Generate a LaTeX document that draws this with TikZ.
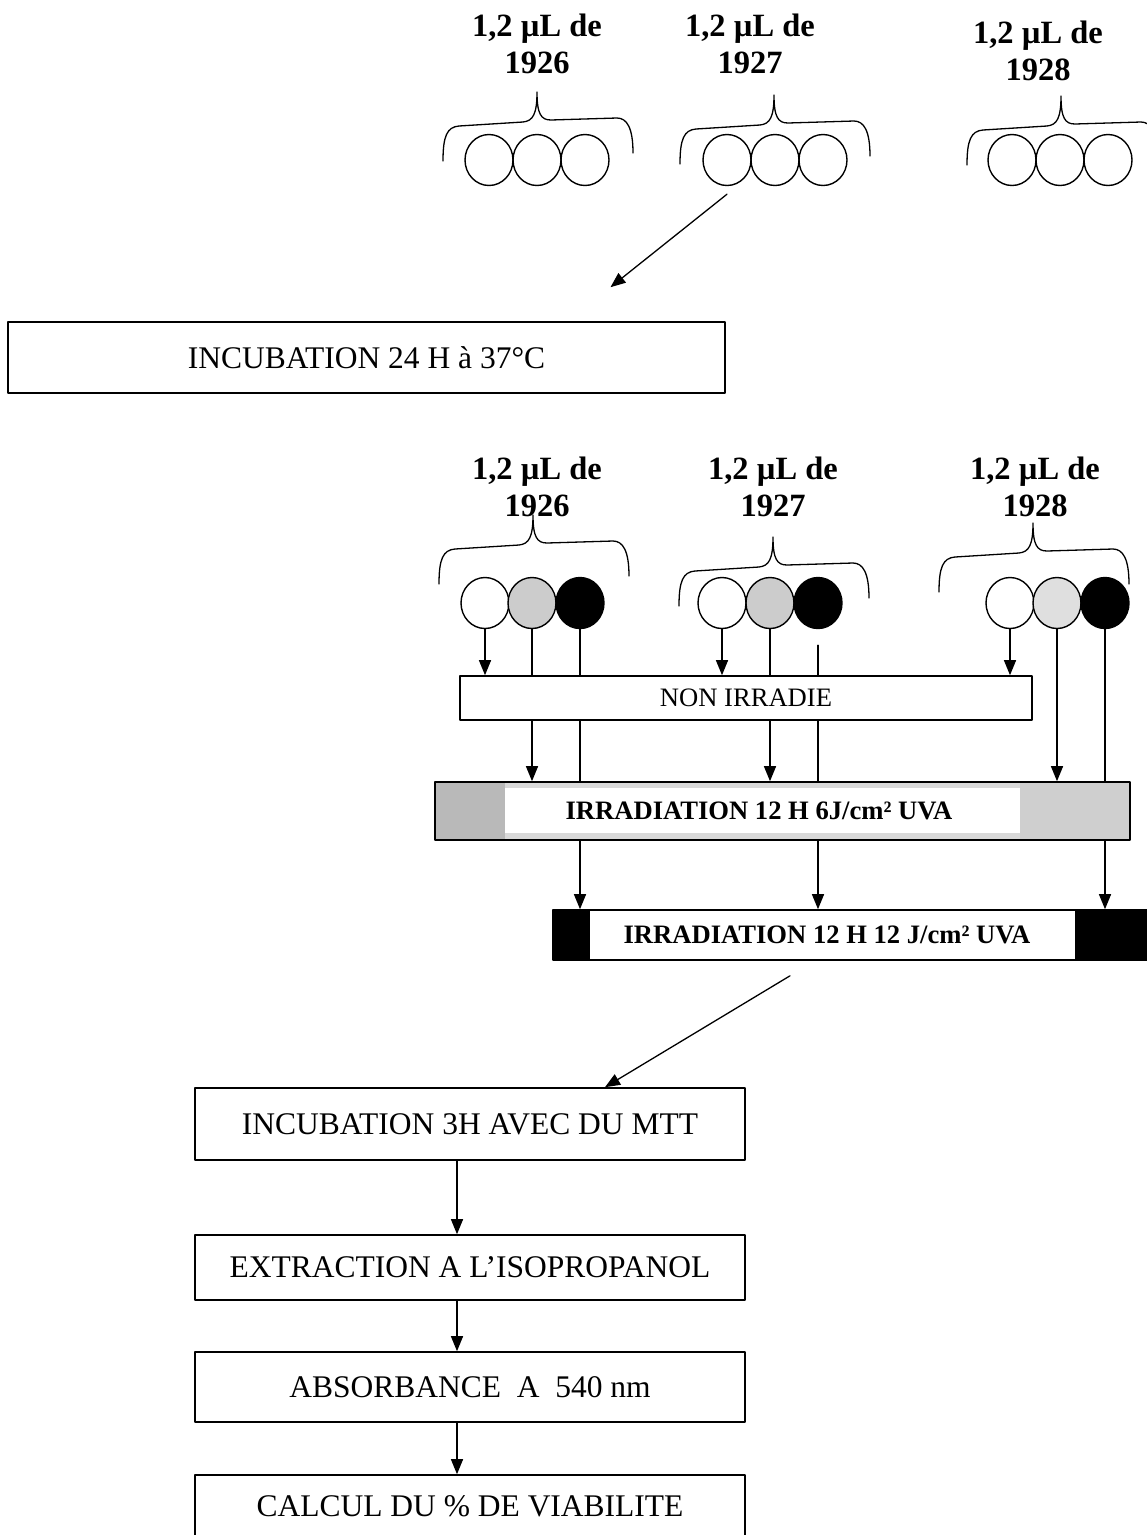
\documentclass[tikz,border=0pt]{standalone}
\usepackage{fontspec}
\setmainfont{Liberation Serif}
\usetikzlibrary{arrows.meta,shapes.geometric}

\tikzset{
  stepbox/.style={draw,line width=1.6pt,inner sep=0pt,font=\fontsize{31.5}{36}\selectfont},
  irrbox/.style={draw,line width=1.6pt,inner sep=0pt,font=\bfseries\fontsize{26.6}{30}\selectfont},
  dose/.style={align=center,inner sep=0pt,font=\bfseries\fontsize{32.5}{37}\selectfont},
  well/.style={draw,ellipse,line width=1.4pt,minimum width=48pt,minimum height=51pt,inner sep=0pt},
  wellbrace/.pic={
    \draw[line width=1.3pt] (-94,69) .. controls (-94,44) and (-90,35) .. (-78,34) -- (-14,30)
      .. controls (-4,29) and (0,22) .. (0,0) .. controls (0,22) and (4,28) .. (14,28)
      -- (80,26) .. controls (90,26) and (96,36) .. (96,61);
  }
}

\begin{document}
\begin{tikzpicture}[x=1pt,y=-1pt,line cap=round,line join=round,>={Triangle[length=15pt,width=12pt]},line width=1.3pt]
\useasboundingbox (0,0) rectangle (1147,1535);

% plaque avant incubation
\node[dose] (d1) at (537,44) {1,2 µL de\\1926};
\node[dose] (d2) at (750,44) {1,2 µL de\\1927};
\node[dose] (d3) at (1038,51) {1,2 µL de\\1928};
\pic at (537,92) {wellbrace};
\pic at (774,95) {wellbrace};
\pic at (1061,96) {wellbrace};
\node[well] (t11) at (489,160) {};
\node[well] (t12) at (537,160) {};
\node[well] (t13) at (585,160) {};
\node[well] (t21) at (727,160) {};
\node[well] (t22) at (775,160) {};
\node[well] (t23) at (823,160) {};
\node[well] (t31) at (1012,160) {};
\node[well] (t32) at (1060,160) {};
\node[well] (t33) at (1108,160) {};

\node[stepbox,minimum width=717pt,minimum height=71pt] (inc24) at (366.5,357.5) {INCUBATION 24 H à 37°C};
\draw[->] ([yshift=-8pt]t21.south) -- ([xshift=244pt,yshift=34pt]inc24.north);

% plaque apres incubation
\node[dose] (e1) at (537,487) {1,2 µL de\\1926};
\node[dose] (e2) at (773,487) {1,2 µL de\\1927};
\node[dose] (e3) at (1035,487) {1,2 µL de\\1928};
\pic at (533,515) {wellbrace};
\pic at (773,537) {wellbrace};
\pic at (1033,523) {wellbrace};
\node[well] (b11) at (485,603) {};
\node[well,fill=gray!40] (b12) at (532,603) {};
\node[well,fill=black] (b13) at (580,603) {};
\node[well] (b21) at (722,603) {};
\node[well,fill=gray!40] (b22) at (770,603) {};
\node[well,fill=black] (b23) at (818,603) {};
\node[well] (b31) at (1010,603) {};
\node[well,fill=gray!25] (b32) at (1057,603) {};
\node[well,fill=black] (b33) at (1105,603) {};

\node[draw,line width=1.6pt,inner sep=0pt,minimum width=572pt,minimum height=44pt,font=\fontsize{26.6}{30}\selectfont] (nonirr) at (746,698) {NON IRRADIE};
\node[irrbox,fill=gray!30,minimum width=695pt,minimum height=58pt,
  path picture={
    \fill[gray!55] (path picture bounding box.north west) rectangle ([xshift=70pt]path picture bounding box.south west);
    \fill[gray!38] ([xshift=-110pt]path picture bounding box.north east) rectangle (path picture bounding box.south east);
    \fill[white] ([xshift=70pt,yshift=-6pt]path picture bounding box.north west) rectangle ([xshift=-110pt,yshift=7pt]path picture bounding box.south east);
  }] (irr6) at (782.5,811) {IRRADIATION 12 H 6J/cm² UVA\hspace*{47pt}};
\node[irrbox,fill=white,minimum width=594pt,minimum height=50pt,
  path picture={
    \fill[black] (path picture bounding box.north west) rectangle ([xshift=37pt]path picture bounding box.south west);
    \fill[black] ([xshift=-72pt]path picture bounding box.north east) rectangle (path picture bounding box.south east);
  }] (irr12) at (850,935) {IRRADIATION 12 H 12 J/cm² UVA\hspace*{46pt}};

% puits blancs
\draw[->] (b11.south) -- (b11 |- nonirr.north);
\draw[->] (b21.south) -- (b21 |- nonirr.north);
\draw[->] (b31.south) -- (b31 |- nonirr.north);
% puits gris
\draw (b12.south) -- (b12 |- nonirr.north);
\draw[->] (b12 |- nonirr.south) -- (b12 |- irr6.north);
\draw (b22.south) -- (b22 |- nonirr.north);
\draw[->] (b22 |- nonirr.south) -- (b22 |- irr6.north);
\draw[->] (b32.south) -- (b32 |- irr6.north);
% puits noirs
\draw (b13.south) -- (b13 |- nonirr.north);
\draw (b13 |- nonirr.south) -- (b13 |- irr6.north);
\draw[->] (b13 |- irr6.south) -- (b13 |- irr12.north);
\draw ([yshift=-16pt]b23.south) -- (b23 |- nonirr.north);
\draw (b23 |- nonirr.south) -- (b23 |- irr6.north);
\draw[->] (b23 |- irr6.south) -- (b23 |- irr12.north);
\draw (b33.south) -- (b33 |- irr6.north);
\draw[->] (b33 |- irr6.south) -- (b33 |- irr12.north);

% lecture
\node[stepbox,minimum width=550pt,minimum height=72pt] (mtt) at (470,1124) {INCUBATION 3H AVEC DU MTT};
\node[stepbox,minimum width=550pt,minimum height=65pt] (extr) at (470,1267.5) {EXTRACTION A L’ISOPROPANOL};
\node[stepbox,minimum width=550pt,minimum height=70pt] (absb) at (470,1387) {ABSORBANCE\ \ A\ \ 540 nm};
\node[stepbox,minimum width=550pt,minimum height=62pt] (calc) at (470,1506) {CALCUL DU \% DE VIABILITE};

\draw[->] ([xshift=-60pt,yshift=-15pt]irr12.south) -- ([xshift=135pt]mtt.north);
\draw[->] ([xshift=-13pt]mtt.south) -- ([xshift=-13pt]extr.north);
\draw[->] ([xshift=-13pt]extr.south) -- ([xshift=-13pt]absb.north);
\draw[->] ([xshift=-13pt]absb.south) -- ([xshift=-13pt]calc.north);
\end{tikzpicture}
\end{document}
